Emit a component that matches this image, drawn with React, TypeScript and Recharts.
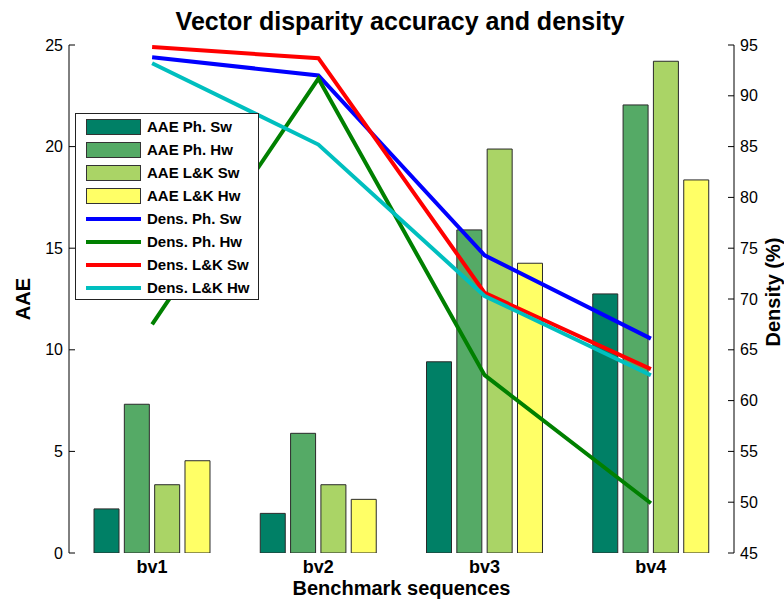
import React from 'react';
import { ComposedChart, Bar, Line, XAxis, YAxis, Legend } from 'recharts';

const categories = ['bv1', 'bv2', 'bv3', 'bv4'];

const aaePhSw = [2.17, 1.95, 9.41, 12.75];
const aaePhHw = [7.32, 5.89, 15.9, 22.05];
const aaeLkSw = [3.36, 3.36, 19.88, 24.2];
const aaeLkHw = [4.54, 2.64, 14.26, 18.36];

const densPhSw = [93.8, 92.0, 74.3, 66.1];
const densPhHw = [67.5, 91.7, 62.5, 49.9];
const densLkSw = [94.8, 93.7, 70.6, 63.1];
const densLkHw = [93.2, 85.2, 70.3, 62.5];

const aaeTicks = [0, 5, 10, 15, 20, 25];
const densityTicks = [45, 50, 55, 60, 65, 70, 75, 80, 85, 90, 95];
const gridTicks = [0.5, 1, 1.5, 2, 2.5, 3, 3.5, 4, 4.5];

const data = categories.map((name, i) => ({
  name,
  aaePhSw: aaePhSw[i],
  aaePhHw: aaePhHw[i],
  aaeLkSw: aaeLkSw[i],
  aaeLkHw: aaeLkHw[i],
  densPhSw: densPhSw[i],
  densPhHw: densPhHw[i],
  densLkSw: densLkSw[i],
  densLkHw: densLkHw[i],
}));

const FONT = '"Liberation Sans", Arial, Helvetica, sans-serif';

type Series = { key: string; label: string; kind: 'bar' | 'line'; color: string };

const series: Series[] = [
  { key: 'aaePhSw', label: 'AAE Ph. Sw', kind: 'bar', color: '#008066' },
  { key: 'aaePhHw', label: 'AAE Ph. Hw', kind: 'bar', color: '#55AA66' },
  { key: 'aaeLkSw', label: 'AAE L&K Sw', kind: 'bar', color: '#AAD466' },
  { key: 'aaeLkHw', label: 'AAE L&K Hw', kind: 'bar', color: '#FFFF66' },
  { key: 'densPhSw', label: 'Dens. Ph. Sw', kind: 'line', color: '#0000FF' },
  { key: 'densPhHw', label: 'Dens. Ph. Hw', kind: 'line', color: '#008000' },
  { key: 'densLkSw', label: 'Dens. L&K Sw', kind: 'line', color: '#FF0000' },
  { key: 'densLkHw', label: 'Dens. L&K Hw', kind: 'line', color: '#00BFBF' },
];

const LegendBox = () => (
  <div
    style={{
      border: '1px solid #222',
      background: '#fff',
      paddingTop: 1,
      width: 182,
      fontFamily: FONT,
    }}
  >
    {series.map((s) => (
      <div key={s.key} style={{ display: 'flex', alignItems: 'center', height: 23 }}>
        {s.kind === 'bar' ? (
          <div
            style={{
              marginLeft: 10,
              width: 53,
              height: 14,
              background: s.color,
              border: '1px solid #333',
              flex: 'none',
            }}
          />
        ) : (
          <div style={{ marginLeft: 10, width: 55, height: 4, background: s.color, flex: 'none' }} />
        )}
        <span
          style={{
            marginLeft: 6,
            fontSize: 15,
            fontWeight: 'bold',
            color: '#000',
            whiteSpace: 'nowrap',
            lineHeight: '16px',
          }}
        >
          {s.label}
        </span>
      </div>
    ))}
  </div>
);

const AaeLabel = (props: any) => {
  const vb = props.viewBox;
  const cx = vb.x + 23;
  const cy = vb.y + vb.height / 2;
  return (
    <text
      x={cx}
      y={cy}
      dy="0.36em"
      transform={`rotate(-90 ${cx} ${cy})`}
      textAnchor="middle"
      fontFamily={FONT}
      fontSize={20}
      fontWeight="bold"
      fill="#000"
    >
      AAE
    </text>
  );
};

const DensityLabel = (props: any) => {
  const vb = props.viewBox;
  const cx = vb.x + 39;
  const cy = vb.y + vb.height / 2 - 7;
  return (
    <text
      x={cx}
      y={cy}
      dy="0.36em"
      transform={`rotate(-90 ${cx} ${cy})`}
      textAnchor="middle"
      fontFamily={FONT}
      fontSize={20}
      fontWeight="bold"
      fill="#000"
    >
      Density (%)
    </text>
  );
};

const XLabel = (props: any) => {
  const vb = props.viewBox;
  return (
    <text
      x={vb.x + vb.width / 2}
      y={vb.y + vb.height - 6}
      textAnchor="middle"
      fontFamily={FONT}
      fontSize={20}
      fontWeight="bold"
      fill="#000"
    >
      Benchmark sequences
    </text>
  );
};

export default function App() {
  return (
    <div style={{ position: 'absolute', left: 0, top: 0, width: 784, height: 601, background: '#fff' }}>
      <div
        style={{
          position: 'absolute',
          left: 0,
          top: 7,
          width: 800,
          textAlign: 'center',
          fontFamily: FONT,
          fontSize: 25,
          fontWeight: 'bold',
          lineHeight: '29px',
          color: '#000',
          zIndex: 2,
        }}
      >
        Vector disparity accuracy and density
      </div>
      <ComposedChart
        width={784}
        height={601}
        data={data}
        margin={{ top: 45, right: 0, bottom: 0, left: 0 }}
        barGap={5.33}
      >
        <XAxis
          xAxisId="cat"
          dataKey="name"
          type="category"
          height={48}
          axisLine={false}
          tickLine={false}
          tickSize={0}
          tickMargin={7}
          tick={{ fill: '#000', fontSize: 18, fontWeight: 'bold', fontFamily: FONT }}
          label={{ content: XLabel }}
        />
        <XAxis
          xAxisId="gridBottom"
          type="number"
          orientation="bottom"
          mirror
          height={0}
          domain={[0.5, 4.5]}
          allowDataOverflow
          ticks={gridTicks}
          tick={false}
          tickSize={6}
          axisLine={{ stroke: '#000' }}
          tickLine={{ stroke: '#000' }}
        />
        <XAxis
          xAxisId="gridTop"
          type="number"
          orientation="top"
          mirror
          height={0}
          domain={[0.5, 4.5]}
          allowDataOverflow
          ticks={gridTicks}
          tick={false}
          tickSize={6}
          axisLine={{ stroke: '#000' }}
          tickLine={{ stroke: '#000' }}
        />
        <YAxis
          yAxisId="left"
          orientation="left"
          width={69}
          domain={[0, 25]}
          ticks={aaeTicks}
          allowDataOverflow
          tickSize={-6}
          tickMargin={12}
          axisLine={{ stroke: '#000' }}
          tickLine={{ stroke: '#000' }}
          tick={{ fill: '#000', fontSize: 16, fontFamily: FONT }}
          label={{ content: AaeLabel }}
        />
        <YAxis
          yAxisId="right"
          orientation="right"
          width={50}
          domain={[45, 95]}
          ticks={densityTicks}
          allowDataOverflow
          tickSize={-6}
          tickMargin={12}
          axisLine={{ stroke: '#000' }}
          tickLine={{ stroke: '#000' }}
          tick={{ fill: '#000', fontSize: 16, fontFamily: FONT }}
          label={{ content: DensityLabel }}
        />
        {series
          .filter((s) => s.kind === 'bar')
          .map((s) => (
            <Bar
              key={s.key}
              xAxisId="cat"
              yAxisId="left"
              dataKey={s.key}
              name={s.label}
              fill={s.color}
              stroke="#2a2a2a"
              strokeWidth={1}
              barSize={25}
              isAnimationActive={false}
            />
          ))}
        {series
          .filter((s) => s.kind === 'line')
          .map((s) => (
            <Line
              key={s.key}
              xAxisId="cat"
              yAxisId="right"
              type="linear"
              dataKey={s.key}
              name={s.label}
              stroke={s.color}
              strokeWidth={4}
              dot={false}
              activeDot={false}
              isAnimationActive={false}
            />
          ))}
        <Legend
          layout="vertical"
          align="center"
          verticalAlign="middle"
          content={LegendBox}
          wrapperStyle={{ left: 75, top: 113, width: 184 }}
        />
      </ComposedChart>
    </div>
  );
}
